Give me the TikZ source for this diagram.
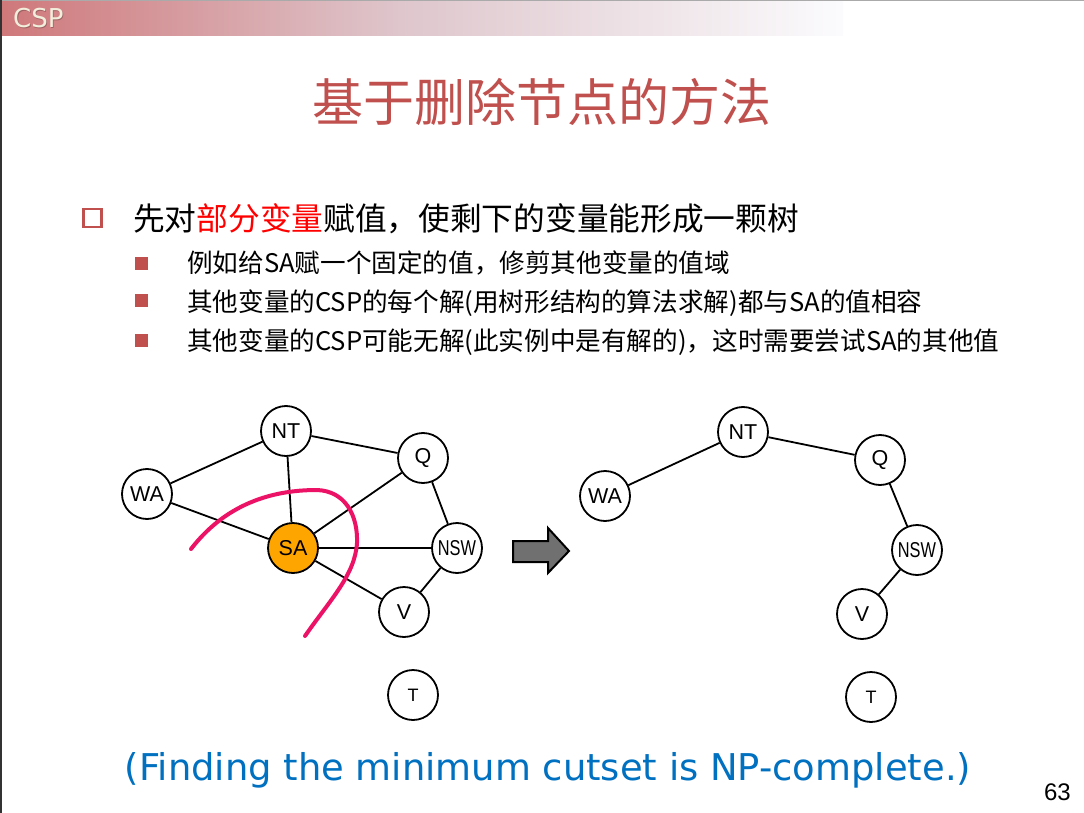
\documentclass[tikz,border=0pt]{standalone}
\usepackage{fontspec}
\usepackage{graphicx}
\newfontfamily\cjk{Noto Sans CJK SC}
\newfontfamily\dejavu{DejaVu Sans}
\newfontfamily\arial{Liberation Sans}
\definecolor{titlered}{RGB}{192,80,77}
\definecolor{bulletred}{RGB}{192,80,77}
\definecolor{cutpink}{RGB}{236,18,102}
\definecolor{notblue}{RGB}{0,112,192}
\definecolor{hdrA}{RGB}{207,120,122}
\definecolor{hdrB}{RGB}{222,198,204}
\definecolor{hdrC}{RGB}{251,251,253}
\definecolor{cream}{RGB}{242,238,220}
\definecolor{hdrshade}{RGB}{110,70,70}
\definecolor{topline}{RGB}{170,170,170}
\definecolor{edgeline}{RGB}{50,50,50}
\definecolor{arrowgray}{RGB}{112,112,112}
\definecolor{saorange}{RGB}{255,165,0}
\newcommand{\narrowlabel}[1]{\scalebox{0.76}[1]{#1}}
\tikzset{
  var/.style={circle, draw=black, line width=1.8pt, fill=white, minimum size=50pt, inner sep=0pt,
    font=\arial\fontsize{21.5}{21.5}\selectfont},
  edge/.style={line width=1.8pt, draw=black},
  cut/.style={line width=4pt, draw=cutpink, line cap=round},
  subsq/.style={fill=bulletred, minimum size=13pt, inner sep=0pt},
  lone/.style={font=\arial\fontsize{18}{18}\selectfont},
}
\begin{document}
\begin{tikzpicture}[x=1pt,y=-1pt]
\useasboundingbox (0,0) rectangle (1084,813);
\fill[white] (0,0) rectangle (1084,813);
% header bar
\shade[left color=hdrA, right color=hdrB] (0,0) rectangle (400,36);
\shade[left color=hdrB, right color=hdrC] (400,0) rectangle (843,36);
\draw[line width=1.5pt, draw=topline] (0,0.75) -- (1084,0.75);
\fill[edgeline] (0,0) rectangle (2,813);
\node[anchor=base west, inner sep=0pt, text=hdrshade, opacity=0.5,
  font=\dejavu\fontsize{26}{26}\selectfont] (hdrshadow) at (13.8,29) {CSP};
\node[anchor=base west, inner sep=0pt, text=cream,
  font=\dejavu\fontsize{26}{26}\selectfont] (hdr) at (13,28) {CSP};
% title
\node[anchor=base, inner sep=0pt, text=titlered, font=\cjk\fontsize{51}{51}\selectfont]
  (title) at (542,122) {基于删除节点的方法};
% bullets
\node[draw=bulletred, line width=2.8pt, minimum size=18pt, inner sep=0pt] (b0) at (92.5,218) {};
\node[anchor=base west, inner sep=0pt, font=\cjk\fontsize{31.7}{31.7}\selectfont] (t0) at (133,230)
  {先对\textcolor{red}{部分变量}赋值，使剩下的变量能形成一颗树};
\node[subsq] (b1) at (141.5,263) {};
\node[subsq] (b2) at (141.5,300) {};
\node[subsq] (b3) at (141.5,340) {};
\node[anchor=base west, inner sep=0pt, font=\cjk\fontsize{25.6}{25.6}\selectfont] (t1) at (187,272)
  {例如给SA赋一个固定的值，修剪其他变量的值域};
\node[anchor=base west, inner sep=0pt, font=\cjk\fontsize{25.6}{25.6}\selectfont] (t2) at (187,311)
  {其他变量的CSP的每个解(用树形结构的算法求解)都与SA的值相容};
\node[anchor=base west, inner sep=0pt, font=\cjk\fontsize{25.6}{25.6}\selectfont] (t3) at (187,350)
  {其他变量的CSP可能无解(此实例中是有解的)，这时需要尝试SA的其他值};
% left graph
\node[var] (WA) at (147,494) {WA};
\node[var] (NT) at (286,431) {NT};
\node[var] (Q) at (423,458) {Q};
\node[var, fill=saorange] (SA) at (293,548) {SA};
\node[var] (NSW) at (457,548) {\narrowlabel{NSW}};
\node[var] (V) at (404,612) {V};
\node[var, lone] (T) at (413,695) {T};
\draw[edge] (WA) -- (NT);
\draw[edge] (WA) -- (SA);
\draw[edge] (NT) -- (SA);
\draw[edge] (NT) -- (Q);
\draw[edge] (SA) -- (Q);
\draw[edge] (SA) -- (NSW);
\draw[edge] (SA) -- (V);
\draw[edge] (Q) -- (NSW);
\draw[edge] (NSW) -- (V);
% cutset curve
\draw[cut] (191,549) .. controls (225,505) and (270,490) .. (317,490)
  .. controls (345,491) and (358,515) .. (357,543)
  .. controls (355,575) and (330,600) .. (305,636);
% block arrow
\draw[line width=2pt, fill=arrowgray, line join=miter]
  (513,541) -- (548,541) -- (548,528) -- (569,551) -- (548,573) -- (548,562) -- (513,562) -- cycle;
% right graph (tree)
\node[var] (WA2) at (605,496) {WA};
\node[var] (NT2) at (743,432) {NT};
\node[var] (Q2) at (880,460) {Q};
\node[var] (NSW2) at (917,550) {\narrowlabel{NSW}};
\node[var] (V2) at (862,614) {V};
\node[var, lone] (T2) at (871,697) {T};
\draw[edge] (WA2) -- (NT2);
\draw[edge] (NT2) -- (Q2);
\draw[edge] (Q2) -- (NSW2);
\draw[edge] (NSW2) -- (V2);
% note and page number
\node[anchor=base, inner sep=0pt, text=notblue, font=\dejavu\fontsize{36.9}{36.9}\selectfont]
  (note) at (548,780) {(Finding the minimum cutset is NP-complete.)};
\node[anchor=base east, inner sep=0pt, font=\arial\fontsize{24}{24}\selectfont] (pg) at (1071,800) {63};
\end{tikzpicture}
\end{document}
